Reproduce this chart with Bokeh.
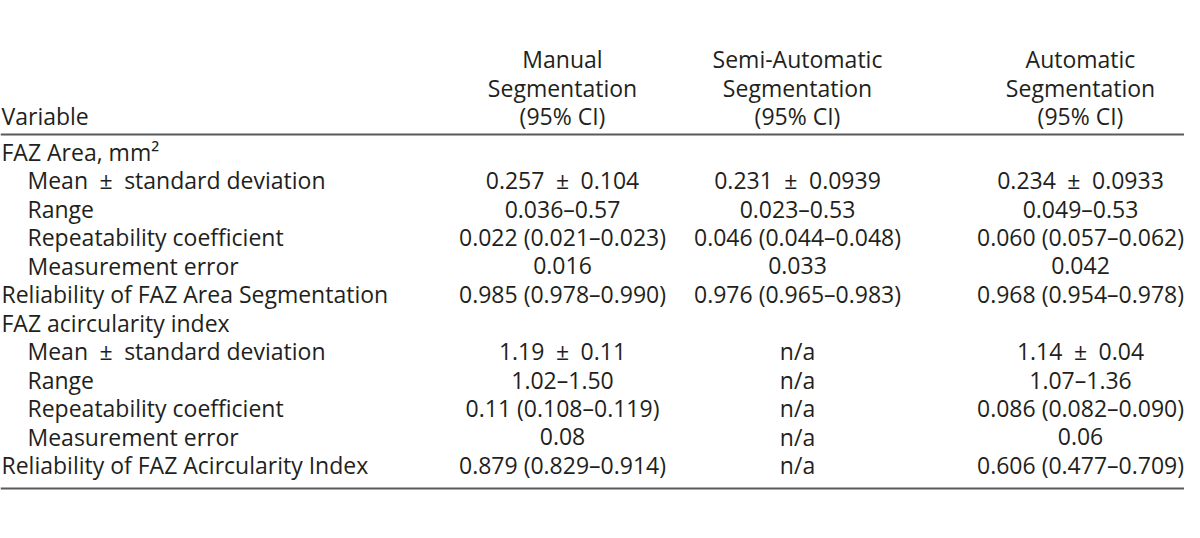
from bokeh.plotting import figure
from bokeh.models import Range1d, ColumnDataSource
from bokeh.core.properties import value
from bokeh.embed import file_html
from bokeh.resources import INLINE

PM = "\u2002±\u2002"  # plus-minus with wide spacing as in the source table

# ---- table content ----
stub_header = "Variable"
col_headers = [
    ["Manual", "Segmentation", "(95% CI)"],
    ["Semi-Automatic", "Segmentation", "(95% CI)"],
    ["Automatic", "Segmentation", "(95% CI)"],
]
row_labels = [
    "FAZ Area, mm²",
    "Mean" + PM + "standard deviation",
    "Range",
    "Repeatability coefficient",
    "Measurement error",
    "Reliability of FAZ Area Segmentation",
    "FAZ acircularity index",
    "Mean" + PM + "standard deviation",
    "Range",
    "Repeatability coefficient",
    "Measurement error",
    "Reliability of FAZ Acircularity Index",
]
row_is_sub = [False, True, True, True, True, False, False, True, True, True, True, False]
manual = ["", "0.257" + PM + "0.104", "0.036–0.57", "0.022 (0.021–0.023)", "0.016",
          "0.985 (0.978–0.990)", "", "1.19" + PM + "0.11", "1.02–1.50",
          "0.11 (0.108–0.119)", "0.08", "0.879 (0.829–0.914)"]
semi = ["", "0.231" + PM + "0.0939", "0.023–0.53", "0.046 (0.044–0.048)", "0.033",
        "0.976 (0.965–0.983)", "", "n/a", "n/a", "n/a", "n/a", "n/a"]
auto = ["", "0.234" + PM + "0.0933", "0.049–0.53", "0.060 (0.057–0.062)", "0.042",
        "0.968 (0.954–0.978)", "", "1.14" + PM + "0.04", "1.07–1.36",
        "0.086 (0.082–0.090)", "0.06", "0.606 (0.477–0.709)"]

# ---- layout ----
W, H = 1184, 522
FONT = value("Open Sans")
FS = "23px"
COLOR = "#231f20"
RULE = "#5a5a5a"
col_x = [562, 797, 1080]
stub_x = 1
indent = 26
first_base = 151
row_h = 28.5
head_base = [58, 87, 115]
top_rule = 134
bottom_rule = 488

p = figure(width=W, height=H, output_backend="svg", toolbar_location=None,
           x_range=Range1d(0, W), y_range=Range1d(H, 0),
           min_border=0, outline_line_color=None, background_fill_color="white")
p.xaxis.visible = False
p.yaxis.visible = False
p.grid.visible = False

def put(xs, ys, texts, align):
    src = ColumnDataSource(dict(x=xs, y=ys, t=texts))
    p.text(x="x", y="y", text="t", source=src, text_font=FONT, text_font_size=FS,
           text_color=COLOR, text_align=align, text_baseline="alphabetic")

# headers
hx, hy, ht = [], [], []
for cx, lines in zip(col_x, col_headers):
    for j, ln in enumerate(lines):
        hx.append(cx); hy.append(head_base[j]); ht.append(ln)
put(hx, hy, ht, "center")
put([stub_x], [head_base[-1]], [stub_header], "left")

# stub column
ys = [first_base + i * row_h for i in range(len(row_labels))]
put([stub_x + (indent if s else 0) for s in row_is_sub], ys, row_labels, "left")

# value columns
for cx, vals in zip(col_x, [manual, semi, auto]):
    put([cx] * len(vals), ys, vals, "center")

# horizontal rules
p.segment(x0=[0, 0], y0=[top_rule, bottom_rule], x1=[W, W], y1=[top_rule, bottom_rule],
          line_color=RULE, line_width=2)

open("out.html", "w").write(file_html(p, INLINE))
